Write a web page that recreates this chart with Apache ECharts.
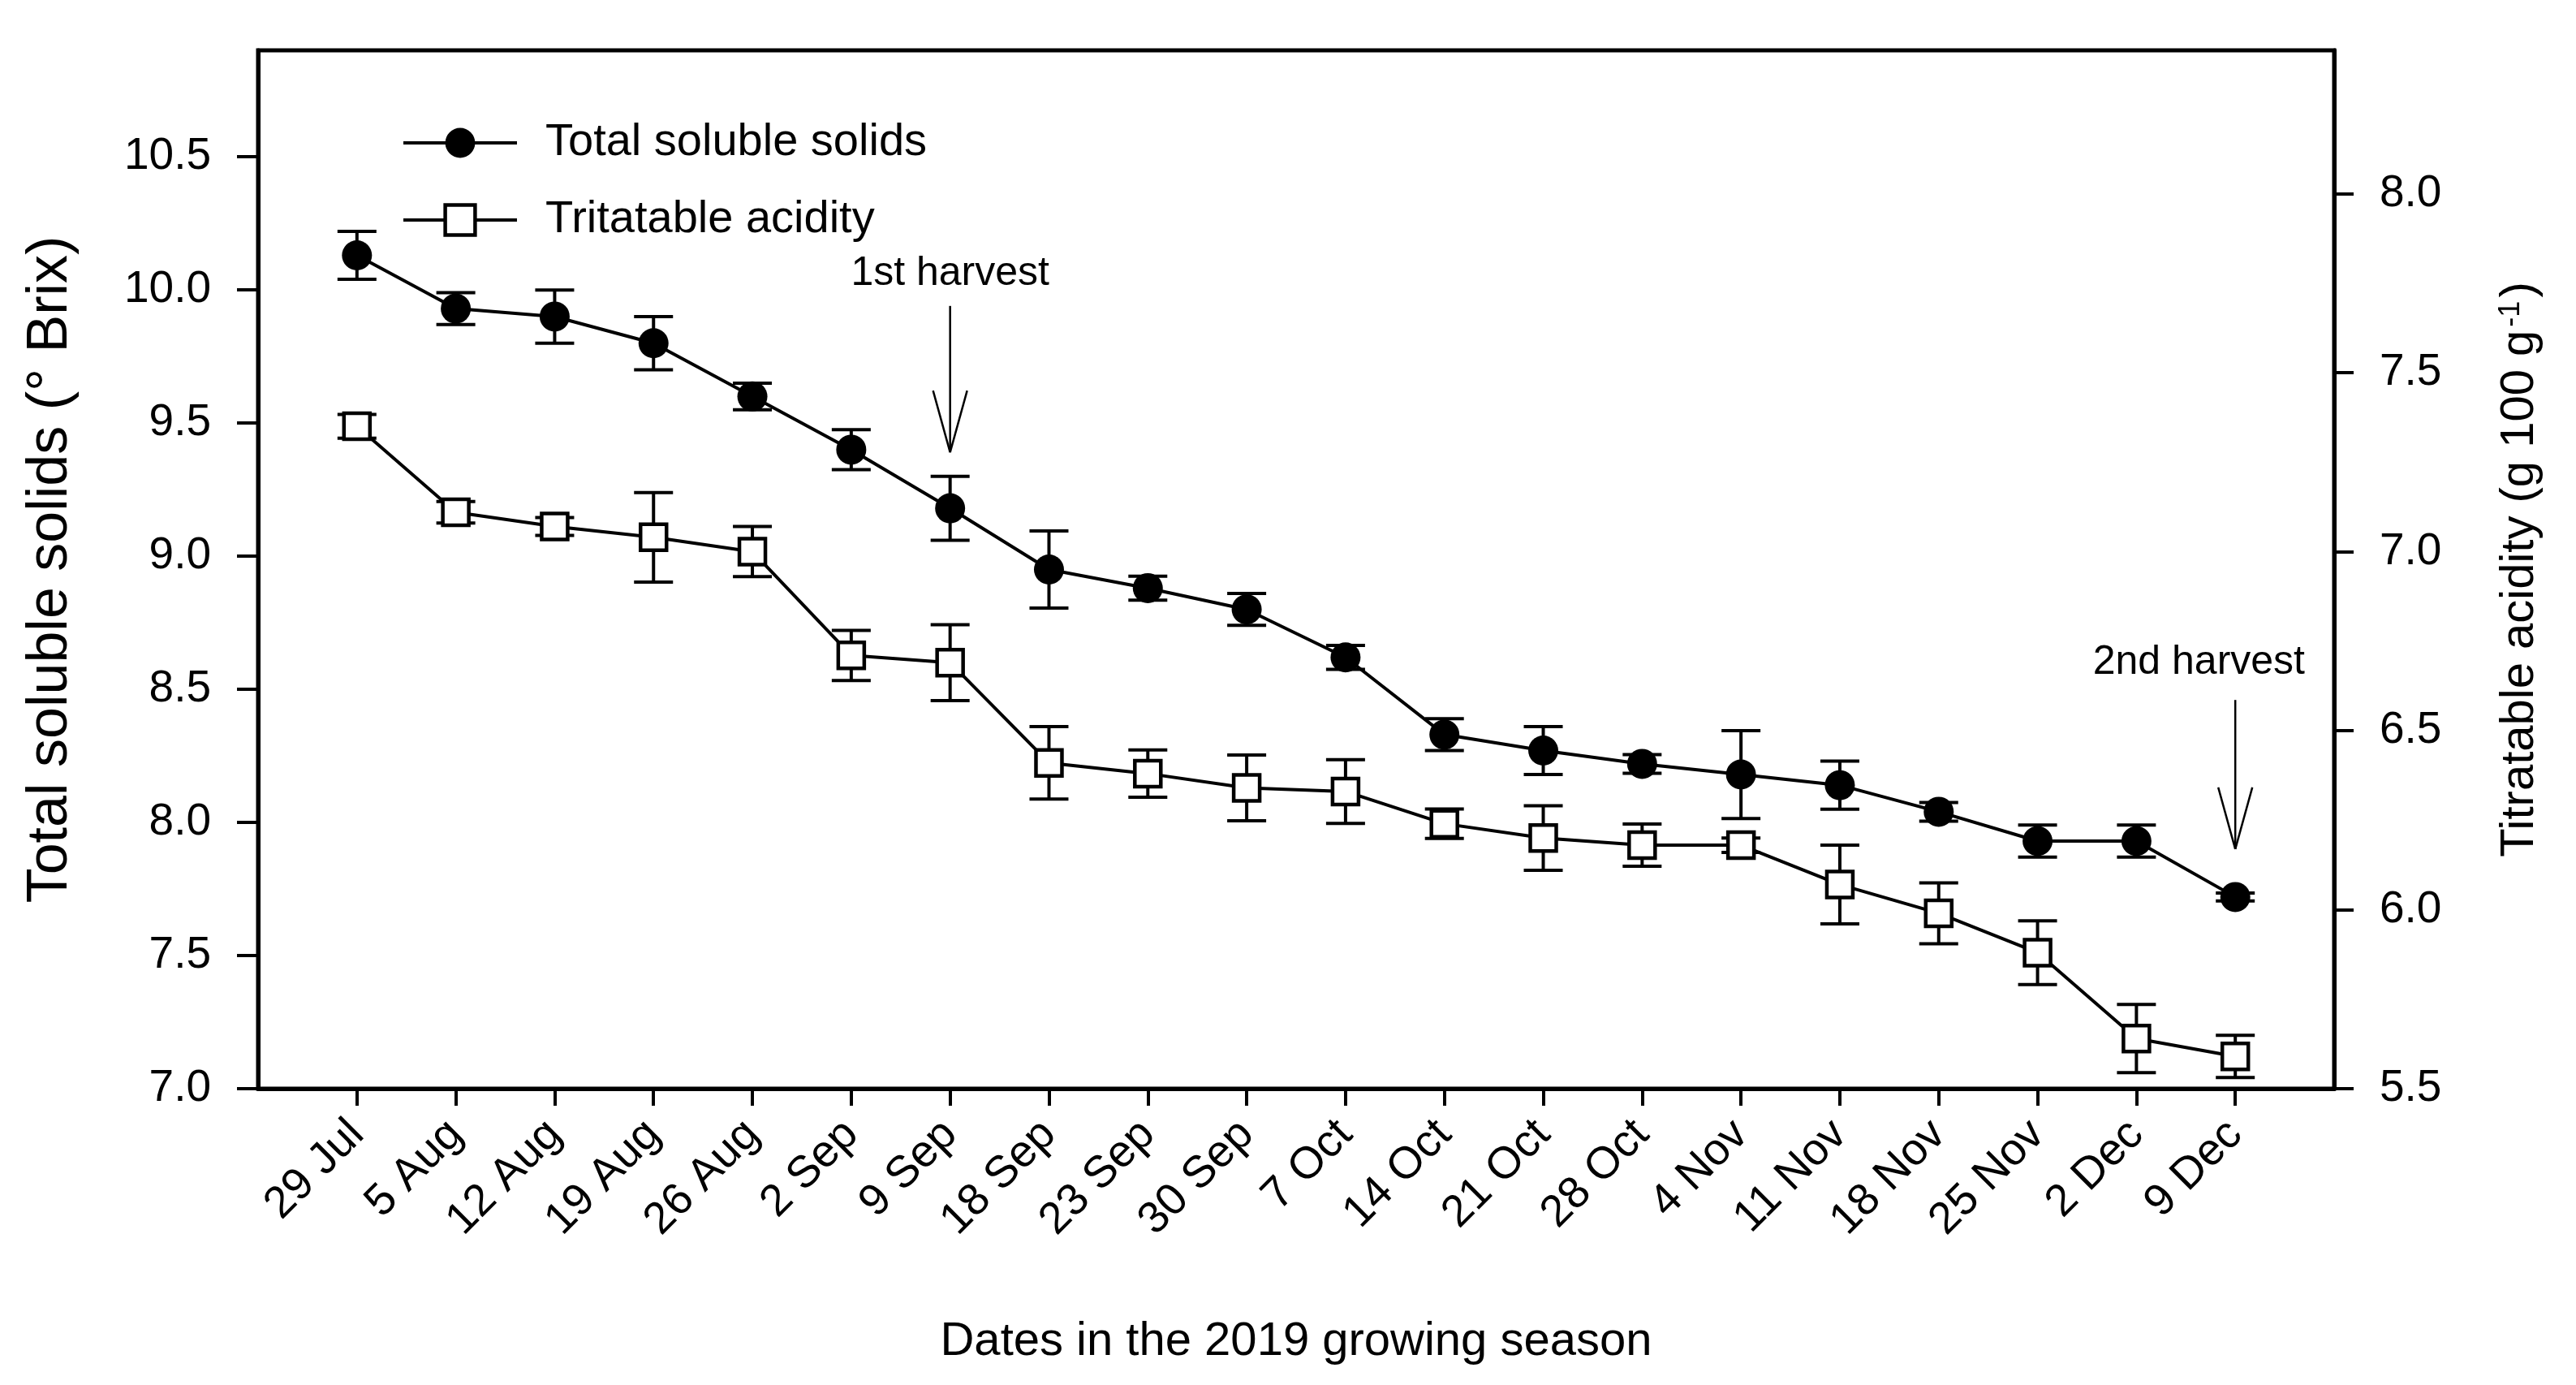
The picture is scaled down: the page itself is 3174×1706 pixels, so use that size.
<!DOCTYPE html>
<html><head><meta charset="utf-8">
<script src="https://cdn.jsdelivr.net/npm/echarts@6/dist/echarts.min.js"></script>
<style>html,body{margin:0;padding:0;background:#fff}#c{width:3174px;height:1706px}</style>
</head><body><div id="c"></div>
<script>
const dates = ['29 Jul','5 Aug','12 Aug','19 Aug','26 Aug','2 Sep','9 Sep','18 Sep','23 Sep','30 Sep','7 Oct','14 Oct','21 Oct','28 Oct','4 Nov','11 Nov','18 Nov','25 Nov','2 Dec','9 Dec'];
const tss = [10.13, 9.93, 9.90, 9.80, 9.60, 9.40, 9.18, 8.95, 8.88, 8.80, 8.62, 8.33, 8.27, 8.22, 8.18, 8.14, 8.04, 7.93, 7.93, 7.72];
const tssErr = [0.09, 0.06, 0.10, 0.10, 0.05, 0.075, 0.12, 0.145, 0.045, 0.06, 0.045, 0.06, 0.09, 0.035, 0.165, 0.09, 0.035, 0.06, 0.06, 0.015];
const ta = [7.35, 7.11, 7.07, 7.04, 7.00, 6.71, 6.69, 6.41, 6.38, 6.34, 6.33, 6.24, 6.20, 6.18, 6.18, 6.07, 5.99, 5.88, 5.64, 5.59];
const taErr = [0.033, 0.03, 0.025, 0.125, 0.07, 0.07, 0.106, 0.101, 0.066, 0.092, 0.089, 0.041, 0.09, 0.059, 0.02, 0.11, 0.085, 0.089, 0.095, 0.059];
const leftTicks = [7.0, 7.5, 8.0, 8.5, 9.0, 9.5, 10.0, 10.5];
const rightTicks = [5.5, 6.0, 6.5, 7.0, 7.5, 8.0];
const harvestNames = ['1st harvest', '2nd harvest'];
const harvestIdx = [6, 19];
const harvestTextY = [10.06, 8.60];
const harvestTopY = [9.94, 8.46];
const harvestTipY = [9.39, 7.90];

const FONT = '"Liberation Sans", Arial, sans-serif';
const xIdx = dates.map((d, i) => i);
const chart = echarts.init(document.getElementById('c'), null, {renderer: 'canvas'});
const measureCtx = document.createElement('canvas').getContext('2d');

function errRender(params, api) {
  const x = api.value(0), y = api.value(1), e = api.value(2);
  const hi = api.coord([x, y + e]), lo = api.coord([x, y - e]);
  const w = 24;
  const st = {stroke: '#000', lineWidth: 4};
  return {type: 'group', children: [
    {type: 'line', shape: {x1: hi[0], y1: hi[1], x2: lo[0], y2: lo[1]}, style: st},
    {type: 'line', shape: {x1: hi[0] - w, y1: hi[1], x2: hi[0] + w, y2: hi[1]}, style: st},
    {type: 'line', shape: {x1: lo[0] - w, y1: lo[1], x2: lo[0] + w, y2: lo[1]}, style: st}
  ]};
}

function annRender(params, api) {
  const x = api.value(0), tip = api.value(1), top = api.value(2), ty = api.value(3), k = api.value(4);
  const pTip = api.coord([x, tip]), pTop = api.coord([x, top]), pText = api.coord([x, ty]);
  const right = api.coord([20, tip])[0];
  const font = '50px ' + FONT;
  measureCtx.font = font;
  const tw = measureCtx.measureText(harvestNames[k]).width;
  const tx = Math.min(pText[0], right - 36 - tw / 2);
  const st = {stroke: '#000', lineWidth: 2.5};
  return {type: 'group', children: [
    {type: 'line', shape: {x1: pTop[0], y1: pTop[1], x2: pTip[0], y2: pTip[1]}, style: st},
    {type: 'line', shape: {x1: pTip[0] - 21, y1: pTip[1] - 76, x2: pTip[0], y2: pTip[1]}, style: st},
    {type: 'line', shape: {x1: pTip[0] + 21, y1: pTip[1] - 76, x2: pTip[0], y2: pTip[1]}, style: st},
    {type: 'text', style: {text: harvestNames[k], x: tx, y: pText[1], align: 'center', verticalAlign: 'middle', font: font, fill: '#000'}}
  ]};
}

const option = {
  backgroundColor: '#fff',
  animation: false,
  textStyle: {fontFamily: FONT, color: '#000'},
  grid: {left: 318, right: 298, top: 62, bottom: 365, show: true, borderColor: '#000', borderWidth: 5, backgroundColor: 'transparent'},
  legend: {
    orient: 'vertical', left: 490, top: 143, itemWidth: 140, itemHeight: 46, itemGap: 39,
    textStyle: {fontFamily: FONT, fontSize: 56, color: '#000', padding: [0, 0, 0, 30]},
    lineStyle: {width: 4, color: '#000'},
    itemStyle: {borderWidth: 4.5},
    data: ['Total soluble solids', 'Tritatable acidity']
  },
  xAxis: {
    type: 'value', min: -1, max: 20, interval: 1,
    name: 'Dates in the 2019 growing season', nameLocation: 'middle', nameGap: 283,
    nameTextStyle: {fontFamily: FONT, fontSize: 58, color: '#000'},
    splitLine: {show: false},
    axisLine: {onZero: false, lineStyle: {color: '#000', width: 5}},
    axisTick: {customValues: xIdx, length: 21, lineStyle: {color: '#000', width: 4}},
    axisLabel: {customValues: xIdx, rotate: 45, margin: 48, fontSize: 55, color: '#000', fontFamily: FONT,
      formatter: v => dates[Math.round(v)] || ''}
  },
  yAxis: [{
    type: 'value', min: 7.0, max: 10.9, interval: 0.5, position: 'left',
    name: 'Total soluble solids (° Brix)', nameLocation: 'middle', nameGap: 220, nameRotate: 90,
    nameTextStyle: {fontFamily: FONT, fontSize: 70, color: '#000'},
    splitLine: {show: false},
    axisLine: {show: true, onZero: false, lineStyle: {color: '#000', width: 5}},
    axisTick: {customValues: leftTicks, length: 26, lineStyle: {color: '#000', width: 4}},
    axisLabel: {customValues: leftTicks, margin: 58, fontSize: 55, color: '#000', fontFamily: FONT, formatter: v => v.toFixed(1)}
  }, {
    type: 'value', min: 5.5, max: 8.4, interval: 0.5, position: 'right',
    name: 'Titratable acidity (g 100 g{sup|-1})', nameLocation: 'middle', nameGap: 200, nameRotate: 90,
    nameTextStyle: {fontFamily: FONT, fontSize: 58, color: '#000',
      rich: {sup: {fontFamily: FONT, fontSize: 36, color: '#000', verticalAlign: 'top', padding: [0, 4, 0, 4]}}},
    splitLine: {show: false},
    axisLine: {show: true, onZero: false, lineStyle: {color: '#000', width: 5}},
    axisTick: {customValues: rightTicks, length: 24, lineStyle: {color: '#000', width: 4}},
    axisLabel: {customValues: rightTicks, margin: 56, fontSize: 55, color: '#000', fontFamily: FONT, formatter: v => v.toFixed(1)}
  }],
  series: [
    {type: 'custom', name: 'tssErr', xAxisIndex: 0, yAxisIndex: 0, z: 1, silent: true,
      renderItem: errRender, data: tss.map((v, i) => [i, v, tssErr[i]])},
    {type: 'custom', name: 'taErr', xAxisIndex: 0, yAxisIndex: 1, z: 1, silent: true,
      renderItem: errRender, data: ta.map((v, i) => [i, v, taErr[i]])},
    {type: 'line', name: 'Total soluble solids', xAxisIndex: 0, yAxisIndex: 0, z: 3,
      data: tss.map((v, i) => [i, v]), symbol: 'circle', symbolSize: 37,
      lineStyle: {color: '#000', width: 4}, itemStyle: {color: '#000'}},
    {type: 'line', name: 'Tritatable acidity', xAxisIndex: 0, yAxisIndex: 1, z: 3,
      data: ta.map((v, i) => [i, v]), symbol: 'rect', symbolSize: 32,
      lineStyle: {color: '#000', width: 4}, itemStyle: {color: '#fff', borderColor: '#000', borderWidth: 4.5}},
    {type: 'custom', name: 'harvest', xAxisIndex: 0, yAxisIndex: 0, z: 4, silent: true,
      renderItem: annRender, data: harvestIdx.map((x, i) => [x, harvestTipY[i], harvestTopY[i], harvestTextY[i], i])}
  ]
};
chart.setOption(option);
</script>
</body></html>
